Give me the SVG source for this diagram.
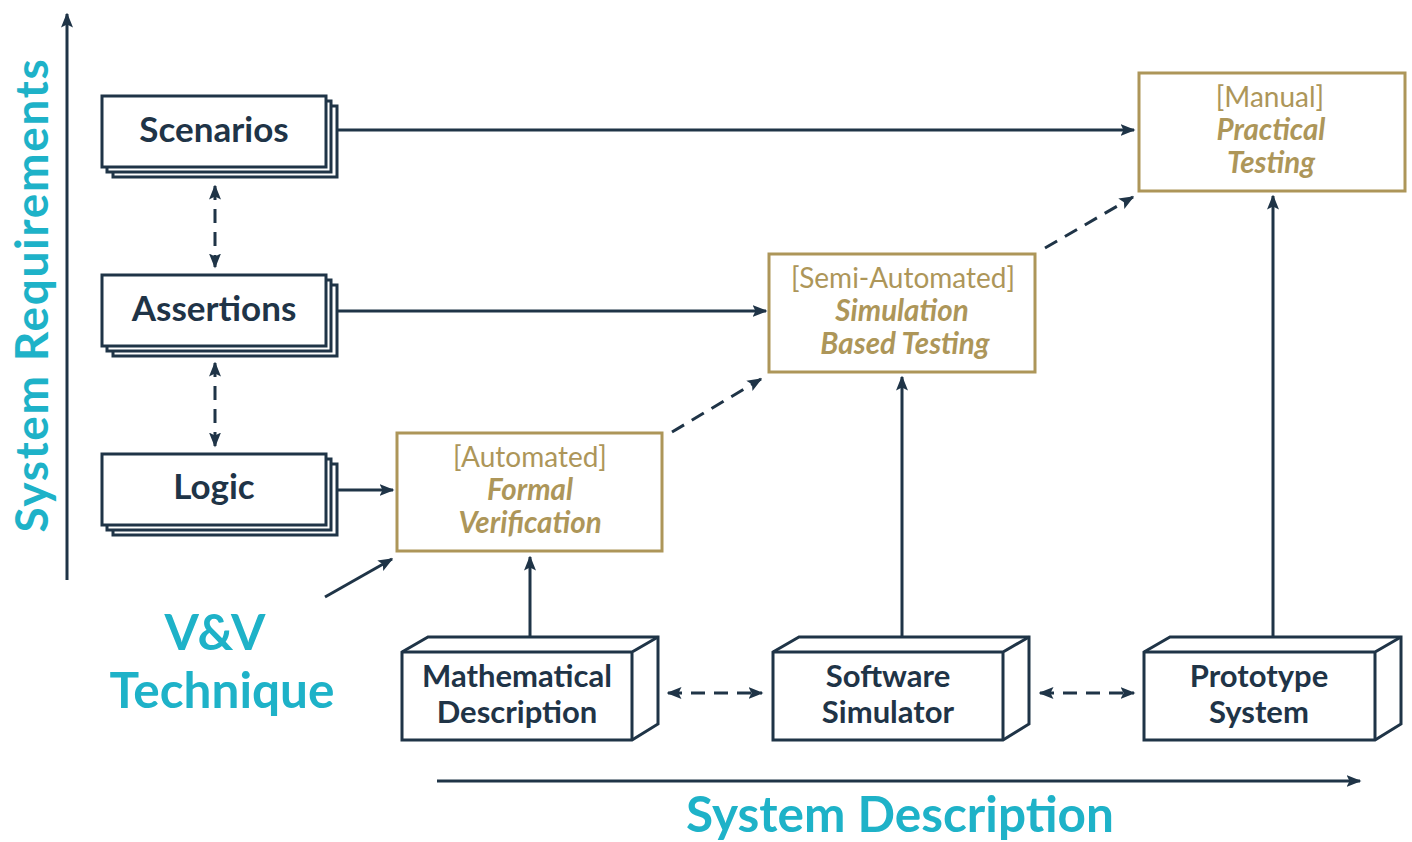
<svg xmlns="http://www.w3.org/2000/svg" width="1412" height="842" viewBox="0 0 1412 842">
  <style>
    .ink { stroke: #1f3447; stroke-width: 3; fill: none; }
    .card { stroke: #1f3447; stroke-width: 3; fill: #ffffff; }
    .gold { stroke: #ad9659; stroke-width: 3; fill: #ffffff; }
    .dash { stroke: #1f3447; stroke-width: 3; fill: none; stroke-dasharray: 14 9; }
    .lbl { font-family: Lato, "Open Sans", sans-serif; font-weight: 700; fill: #1f3447; text-anchor: middle; }
    .req { font-size: 35px; }
    .sys { font-size: 31px; }
    .tech { font-family: Lato, "Open Sans", sans-serif; fill: #ad9659; text-anchor: middle; font-size: 28px; }
    .em { font-style: italic; font-weight: 700; font-size: 29.5px; }
    .axis { font-family: Lato, "Open Sans", sans-serif; font-weight: 700; fill: #1eb2c8; text-anchor: middle; font-size: 49.5px; }
    .vert { font-size: 46px; letter-spacing: 1.7px; }
  </style>
  <defs>
    <marker id="head" viewBox="0 0 10 10" refX="9" refY="5" markerWidth="5" markerHeight="5" orient="auto-start-reverse" markerUnits="strokeWidth">
      <path d="M0,1 L10,5 L0,9 L2,5 Z" fill="#1f3447"/>
    </marker>
  </defs>
  <rect width="1412" height="842" fill="#ffffff"/>

  <!-- axes and their titles -->
  <g id="axes">
    <line class="ink" x1="67" y1="580" x2="67" y2="14" marker-end="url(#head)"/>
    <line class="ink" x1="437" y1="781" x2="1360" y2="781" marker-end="url(#head)"/>
    <text class="axis vert" transform="translate(48,295) rotate(-90)">System Requirements</text>
    <text class="axis" x="900" y="832">System Description</text>
    <text class="axis" x="215" y="650">V&amp;V</text>
    <text class="axis" x="222" y="708">Technique</text>
  </g>

  <!-- connectors -->
  <g id="connectors">
    <line class="ink" x1="338" y1="130" x2="1134" y2="130" marker-end="url(#head)"/>
    <line class="ink" x1="338" y1="311" x2="766" y2="311" marker-end="url(#head)"/>
    <line class="ink" x1="338" y1="490" x2="393" y2="490" marker-end="url(#head)"/>
    <line class="dash" x1="215" y1="186" x2="215" y2="267" stroke-dasharray="12 9" marker-start="url(#head)" marker-end="url(#head)"/>
    <line class="dash" x1="215" y1="363" x2="215" y2="446" stroke-dasharray="12 9" marker-start="url(#head)" marker-end="url(#head)"/>
    <line class="dash" x1="672" y1="432" x2="761" y2="379" marker-end="url(#head)"/>
    <line class="dash" x1="1045" y1="248" x2="1133" y2="197" marker-end="url(#head)"/>
    <line class="dash" x1="668" y1="693" x2="762" y2="693" marker-start="url(#head)" marker-end="url(#head)"/>
    <line class="dash" x1="1040" y1="693" x2="1134" y2="693" marker-start="url(#head)" marker-end="url(#head)"/>
    <line class="ink" x1="530" y1="636" x2="530" y2="557" marker-end="url(#head)"/>
    <line class="ink" x1="902" y1="636" x2="902" y2="377" marker-end="url(#head)"/>
    <line class="ink" x1="1273" y1="636" x2="1273" y2="196" marker-end="url(#head)"/>
    <line class="ink" x1="325" y1="597" x2="392" y2="559" marker-end="url(#head)"/>
  </g>

  <!-- requirement stacks -->
  <g id="scenarios">
    <rect class="card" x="113" y="106" width="224" height="71"/>
    <rect class="card" x="107" y="101" width="224" height="71"/>
    <rect class="card" x="102" y="96" width="224" height="71"/>
    <text class="lbl req" x="214" y="142">Scenarios</text>
  </g>
  <g id="assertions">
    <rect class="card" x="113" y="285" width="224" height="71"/>
    <rect class="card" x="107" y="280" width="224" height="71"/>
    <rect class="card" x="102" y="275" width="224" height="71"/>
    <text class="lbl req" x="214" y="321">Assertions</text>
  </g>
  <g id="logic">
    <rect class="card" x="113" y="464" width="224" height="71"/>
    <rect class="card" x="107" y="459" width="224" height="71"/>
    <rect class="card" x="102" y="454" width="224" height="71"/>
    <text class="lbl req" x="214" y="499">Logic</text>
  </g>

  <!-- V&V techniques -->
  <g id="formal-verification">
    <rect class="gold" x="397" y="433" width="265" height="118"/>
    <text class="tech" x="530" y="467">[Automated]</text>
    <text class="tech em" x="530" y="500">Formal</text>
    <text class="tech em" x="530" y="533">Verification</text>
  </g>
  <g id="simulation-testing">
    <rect class="gold" x="769" y="254" width="266" height="118"/>
    <text class="tech" x="903" y="288">[Semi-Automated]</text>
    <text class="tech em" x="902" y="321">Simulation</text>
    <text class="tech em" x="905" y="354">Based Testing</text>
  </g>
  <g id="practical-testing">
    <rect class="gold" x="1139" y="73" width="266" height="118"/>
    <text class="tech" x="1270" y="107">[Manual]</text>
    <text class="tech em" x="1271" y="140">Practical</text>
    <text class="tech em" x="1271" y="173">Testing</text>
  </g>

  <!-- system descriptions -->
  <g id="mathematical-description">
    <path class="card" d="M402,652 L428,637 L658,637 L658,724 L632,740 L402,740 Z"/>
    <path class="ink" d="M402,652 L632,652 L658,637 M632,652 L632,740"/>
    <text class="lbl sys" x="517" y="687">Mathematical</text>
    <text class="lbl sys" x="517" y="723">Description</text>
  </g>
  <g id="software-simulator">
    <path class="card" d="M773,652 L799,637 L1029,637 L1029,724 L1003,740 L773,740 Z"/>
    <path class="ink" d="M773,652 L1003,652 L1029,637 M1003,652 L1003,740"/>
    <text class="lbl sys" x="888" y="687">Software</text>
    <text class="lbl sys" x="888" y="723">Simulator</text>
  </g>
  <g id="prototype-system">
    <path class="card" d="M1144,652 L1170,637 L1401,637 L1401,724 L1375,740 L1144,740 Z"/>
    <path class="ink" d="M1144,652 L1375,652 L1401,637 M1375,652 L1375,740"/>
    <text class="lbl sys" x="1259" y="687">Prototype</text>
    <text class="lbl sys" x="1259" y="723">System</text>
  </g>
</svg>
